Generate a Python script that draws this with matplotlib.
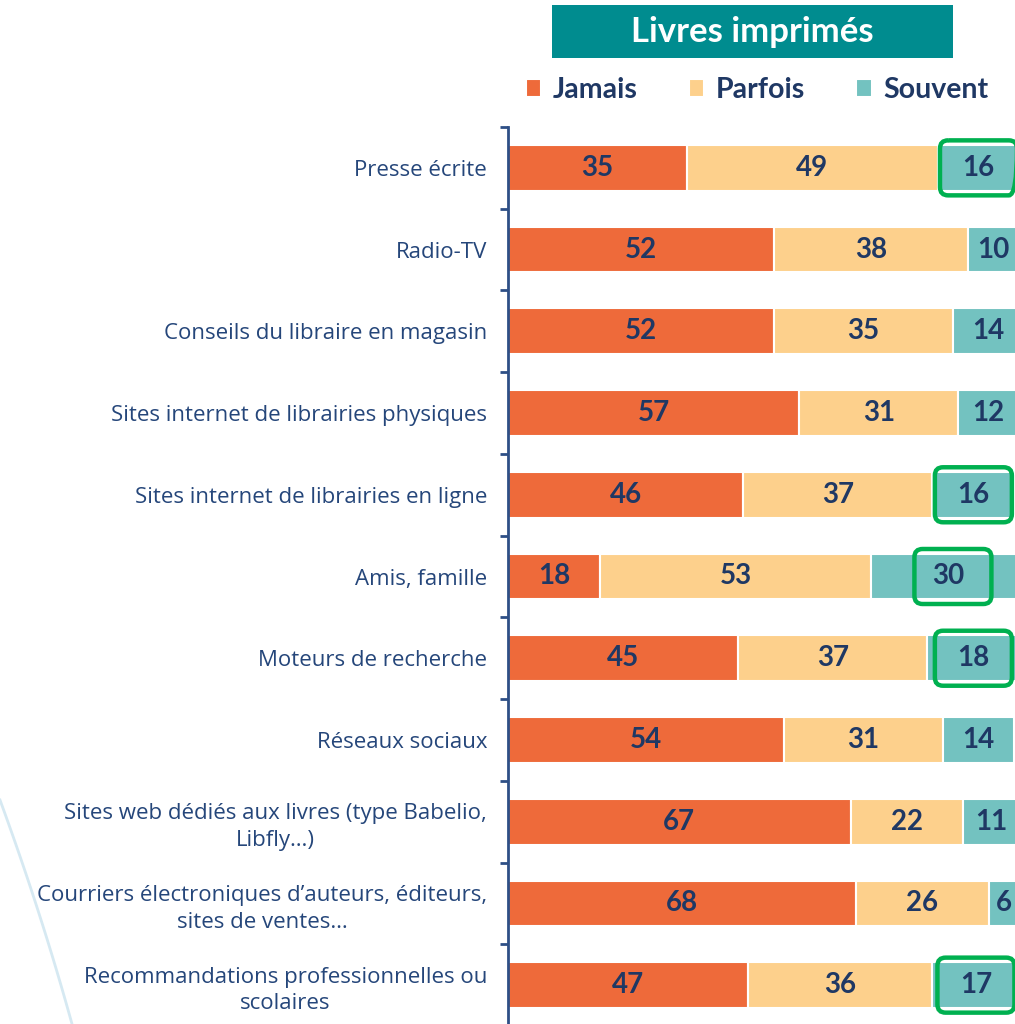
import numpy as np
import matplotlib
matplotlib.use('Agg')
import matplotlib.pyplot as plt
from matplotlib.patches import Rectangle, FancyBboxPatch

categories = ['Presse écrite', 'Radio-TV', 'Conseils du libraire en magasin',
              'Sites internet de librairies physiques',
              'Sites internet de librairies en ligne', 'Amis, famille',
              'Moteurs de recherche', 'Réseaux sociaux',
              'Sites web dédiés aux livres (type Babelio,\nLibfly…)',
              'Courriers électroniques d’auteurs, éditeurs,\nsites de ventes…',
              'Recommandations professionnelles ou\nscolaires']
series = ['Jamais', 'Parfois', 'Souvent']
jamais = [35, 52, 52, 57, 46, 18, 45, 54, 67, 68, 47]
parfois = [49, 38, 35, 31, 37, 53, 37, 31, 22, 26, 36]
souvent = [16, 10, 14, 12, 16, 30, 18, 14, 11, 6, 17]
# rows whose "Souvent" value is circled in green, with a small x shift of the box
boxed = {0: 0, 4: 0, 5: 1, 6: 0, 10: 0}

colors = ['#EE6A3A', '#FDD08C', '#73C2C0']
txt = '#1F3864'

plt.rcParams['font.family'] = ['Lato', 'DejaVu Sans']

fig = plt.figure(figsize=(10.15, 10.24), dpi=100)
W, H = 1015, 1024
ax = fig.add_axes([508 / W, -2 / H, 1 - 508 / W, (1026 - 127) / H])

y = np.arange(len(categories))
left = np.zeros(len(categories))
bars = []
for name, vals, c in zip(series, [jamais, parfois, souvent], colors):
    b = ax.barh(y, vals, left=left, height=0.56, color=c, edgecolor='white',
                linewidth=1.5, label=name)
    bars.append(b)
    for i, v in enumerate(vals):
        ax.text(left[i] + v / 2, i, str(v), ha='center', va='center',
                fontsize=20, fontweight='bold', color=txt)
    left = left + np.array(vals)

xmax = (W - 508) / 5.114
ax.set_xlim(0, xmax)
ax.set_ylim(len(categories) - 0.5, -0.5)

# green rounded boxes
px_x = 5.114
px_y = 899 / len(categories)
bw = 77 / px_x
bh = 55 / px_y
start = np.array(jamais) + np.array(parfois)
for i, dx in boxed.items():
    cx = start[i] + souvent[i] / 2 + dx
    p = FancyBboxPatch((cx - bw / 2, i - bh / 2), bw, bh,
                       boxstyle='round,pad=0,rounding_size=1.6',
                       mutation_aspect=(1 / px_y) / (1 / px_x),
                       fc='none', ec='#00B050', lw=3.2, clip_on=False, zorder=5)
    ax.add_patch(p)

for s in ['top', 'right', 'bottom']:
    ax.spines[s].set_visible(False)
ax.spines['left'].set_color('#2E4F86')
ax.spines['left'].set_linewidth(2)
ax.set_xticks([])
ax.set_yticks(y)
ax.set_yticklabels(categories, fontsize=16, color='#25467A', linespacing=1.35,
                   multialignment='center', family=['Open Sans', 'DejaVu Sans'])
ax.tick_params(axis='y', which='major', length=0, pad=15)
ax.set_yticks(np.arange(-0.5, len(categories)), minor=True)
ax.tick_params(axis='y', which='minor', length=6, width=2, color='#2E4F86')

# title box
fig.patches.append(Rectangle((552 / W, 1 - 58 / H), 401 / W, 53 / H,
                             transform=fig.transFigure, fc='#008C8F', ec='none'))
fig.text(752 / W, 1 - 32 / H, 'Livres imprimés', ha='center', va='center',
         fontsize=25, fontweight='bold', color='white')

fig.legend(handles=bars, labels=series, loc='center', ncol=3,
           bbox_to_anchor=(757 / W, 1 - 90 / H), frameon=False,
           prop={'size': 20.5, 'weight': 'bold'}, labelcolor=txt,
           handlelength=0.55, handleheight=0.55, handletextpad=0.4,
           columnspacing=1.8)

# faint decorative arc
t = np.linspace(0, 1, 50)
fig.add_artist(plt.Line2D((0 + 72 * t + 10 * t * (1 - t)) / W,
                          1 - (800 + 224 * t) / H, color='#D6E9F2', lw=2,
                          transform=fig.transFigure, zorder=0))

fig.savefig('out.png', dpi=100)
